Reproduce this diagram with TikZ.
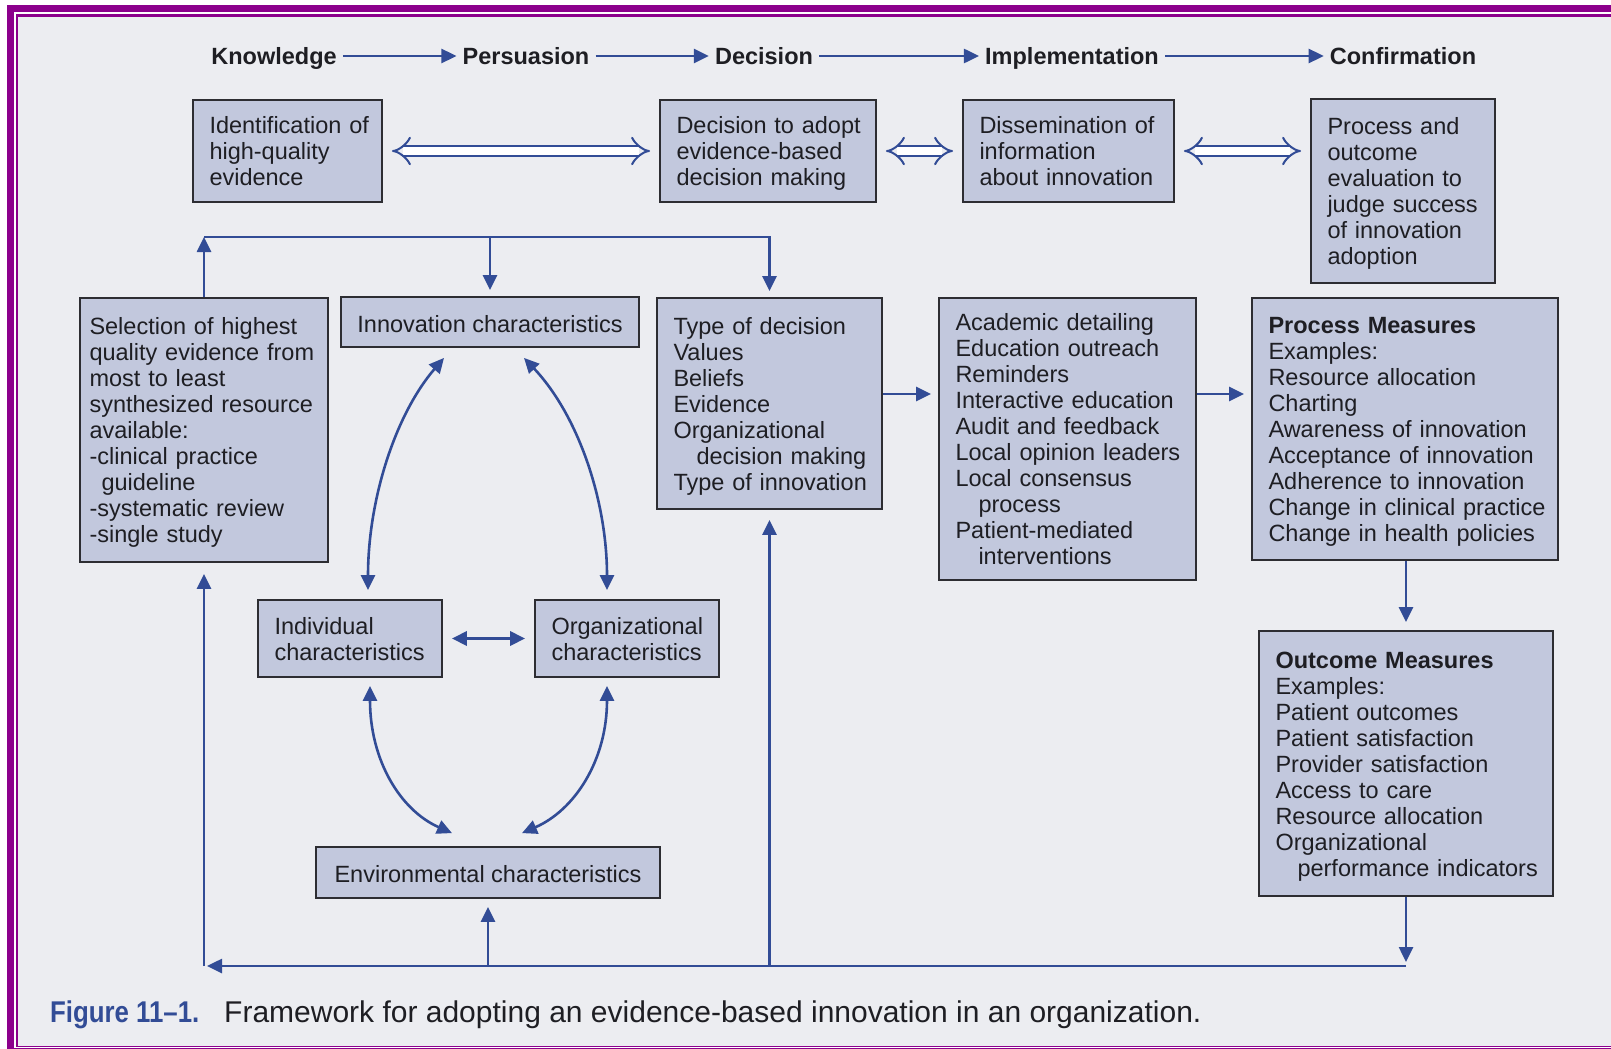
\documentclass[tikz,border=0pt]{standalone}
\usepackage{fontspec}
\setmainfont{Liberation Sans}
\newfontfamily\figfont[FakeStretch=0.86]{Liberation Sans}
\usetikzlibrary{arrows.meta,calc}
\definecolor{framec}{RGB}{140,0,140}
\definecolor{bgc}{RGB}{236,237,241}
\definecolor{boxfill}{RGB}{194,200,221}
\definecolor{boxline}{RGB}{45,45,50}
\definecolor{arrblue}{RGB}{50,76,150}
\definecolor{txtc}{RGB}{30,30,35}
\newcommand{\lns}[1]{\raisebox{-3.5pt}[\height][\depth]{\begin{tabular}{@{}l@{}}#1\end{tabular}}}
\newcommand{\oneln}[1]{\raisebox{-2pt}[\height][\depth]{#1}}
\begin{document}
\begin{tikzpicture}[x=1pt,y=-1pt,
  box/.style={draw=boxline, fill=boxfill, line width=1.8pt, inner xsep=16.5pt, inner ysep=0pt,
    align=left, font=\fontsize{23.5}{26}\selectfont, text=txtc},
  hdr/.style={font=\bfseries\fontsize{23.5}{26}\selectfont, text=txtc, inner xsep=6pt,
    text height=20pt, text depth=2pt},
  arr/.style={draw=arrblue, line width=2.6pt, -{Triangle[length=15pt,width=14pt]}},
  arrb/.style={draw=arrblue, line width=2.6pt, {Triangle[length=15pt,width=14pt]}-{Triangle[length=15pt,width=14pt]}},
  hollow/.style={draw=arrblue, line width=2pt, double=white, double distance=8pt, {Implies}-{Implies}}
]
\useasboundingbox (0,0) rectangle (1611,1049);
% frame and background
\fill[white] (0,0) rectangle (1611,1049);
\fill[framec] (7,5) rectangle (1611,12.3);
\fill[framec] (7,5) rectangle (14,1049);
\fill[framec] (7,1048) rectangle (1611,1049);
\fill[framec] (16,13.7) rectangle (1611,16.7);
\fill[framec] (16,13.7) rectangle (17.6,1047);
\fill[framec] (16,1045.5) rectangle (1611,1047);
\fill[bgc] (17.6,16.7) rectangle (1611,1045.5);

% level coordinates
\coordinate (lvT) at (0,237);
\coordinate (lvA) at (0,394);
\coordinate (lvB) at (0,966);

% header
\node[hdr] (kn) at (274,56) {Knowledge};
\node[hdr] (pe) at (526,56) {Persuasion};
\node[hdr] (de) at (764,56) {Decision};
\node[hdr] (im) at (1072,56) {Implementation};
\node[hdr] (co) at (1403,56) {Confirmation};

% top boxes
\node[box, minimum width=189pt, minimum height=102pt, text width=156pt] (b1) at (287.5,151)
  {\lns{Identification of\\high-quality\\evidence}};
\node[box, minimum width=216pt, minimum height=102pt, text width=183pt] (b2) at (768,151)
  {\lns{Decision to adopt\\evidence-based\\decision making}};
\node[box, minimum width=211pt, minimum height=102pt, text width=178pt] (b3) at (1068.5,151)
  {\lns{Dissemination of\\information\\about innovation}};
\node[box, minimum width=184pt, minimum height=184pt, text width=151pt] (b4) at (1403,191)
  {\lns{Process and\\outcome\\evaluation to\\judge success\\of innovation\\adoption}};

% second row
\node[box, inner xsep=9.5pt, minimum width=248pt, minimum height=264pt, text width=229pt] (sel) at (204,430)
  {\lns{Selection of highest\\quality evidence from\\most to least\\synthesized resource\\available:\\-clinical practice\\\hspace*{12pt}guideline\\-systematic review\\-single study}};
\node[box, align=center, minimum width=298pt, minimum height=50pt] (inn) at (490,322)
  {\oneln{Innovation characteristics}};
\node[box, minimum width=225pt, minimum height=211pt, text width=192pt] (typ) at (769.5,403.5)
  {\lns{Type of decision\\Values\\Beliefs\\Evidence\\Organizational\\\hspace*{23pt}decision making\\Type of innovation}};
\node[box, minimum width=257pt, minimum height=282pt, text width=224pt] (aca) at (1067.5,439)
  {\lns{Academic detailing\\Education outreach\\Reminders\\Interactive education\\Audit and feedback\\Local opinion leaders\\Local consensus\\\hspace*{23pt}process\\Patient-mediated\\\hspace*{23pt}interventions}};
\node[box, minimum width=306pt, minimum height=262pt, text width=273pt] (pro) at (1405,429)
  {\lns{\textbf{Process Measures}\\Examples:\\Resource allocation\\Charting\\Awareness of innovation\\Acceptance of innovation\\Adherence to innovation\\Change in clinical practice\\Change in health policies}};
\node[box, minimum width=294pt, minimum height=265pt, text width=261pt] (out) at (1406,763.5)
  {\lns{\textbf{Outcome Measures}\\Examples:\\Patient outcomes\\Patient satisfaction\\Provider satisfaction\\Access to care\\Resource allocation\\Organizational\\\hspace*{22pt}performance indicators}};
\node[box, minimum width=184pt, minimum height=77pt, text width=151pt] (ind) at (350,638.5)
  {\lns{Individual\\characteristics}};
\node[box, minimum width=184pt, minimum height=77pt, text width=151pt] (org) at (627,638.5)
  {\lns{Organizational\\characteristics}};
\node[box, align=center, minimum width=344pt, minimum height=51pt] (env) at (488,872.5)
  {\oneln{Environmental characteristics}};

% caption
\node[anchor=base west, inner sep=0pt, font=\figfont\bfseries\fontsize{30}{32}\selectfont, text=arrblue] (cap1) at (50,1022) {Figure 11–1.};
\node[anchor=base west, inner sep=0pt, font=\fontsize{30}{32}\selectfont, text=txtc] (cap2) at (224,1022) {Framework for adopting an evidence-based innovation in an organization.};

% header arrows
\draw[arr] (kn) -- (pe);
\draw[arr] (pe) -- (de);
\draw[arr] (de) -- (im);
\draw[arr] (im) -- (co);

% hollow double arrows
\draw[hollow, shorten <=9pt, shorten >=9pt] (b1.east) -- (b2.west);
\draw[hollow, shorten <=9pt, shorten >=9pt] (b2.east) -- (b3.west);
\draw[hollow, shorten <=9pt, shorten >=9pt] (b3.east) -- (b3.east -| b4.west);

% top bus
\draw[arr] (sel.north) -- (sel.north |- lvT);
\draw[arr, shorten >=6pt] (sel.north |- lvT) -- (typ.north |- lvT) -- (typ.north);
\draw[arr, shorten >=6pt] (inn.north |- lvT) -- (inn.north);

% horizontal flow
\draw[arr, shorten >=7pt] (typ.east |- lvA) -- (aca.west |- lvA);
\draw[arr, shorten >=7pt] (aca.east |- lvA) -- (pro.west |- lvA);
\draw[arr, shorten >=8pt] (out.north |- pro.south) -- (out.north);

% characteristics
\draw[arrb, line width=3.4pt, shorten <=9pt, shorten >=9pt] (ind) -- (org);
\draw[arrb] ($(inn.south)+(-46,10)$) .. controls (395,415) and (368,500) .. ($(ind.north)+(18,-9)$);
\draw[arrb] ($(inn.south)+(34,10)$) .. controls (578,415) and (607,500) .. ($(org.north)+(-20,-9)$);
\draw[arrb] ($(ind.south)+(20,8)$) .. controls (370,760) and (400,810) .. ($(env.north)+(-36,-13)$);
\draw[arrb] ($(org.south)+(-20,8)$) .. controls (607,760) and (575,810) .. ($(env.north)+(34,-13)$);

% bottom bus
\draw[arr, shorten >=4pt] (out.south) -- (out.south |- lvB);
\draw[arr, shorten >=3pt] (out.south |- lvB) -- (sel.south |- lvB);
\draw[arr, shorten >=11pt] (sel.south |- lvB) -- (sel.south);
\draw[arr, shorten >=8pt] (env.south |- lvB) -- (env.south);
\draw[arr, shorten >=10pt] (typ.south |- lvB) -- (typ.south);
\end{tikzpicture}
\end{document}
